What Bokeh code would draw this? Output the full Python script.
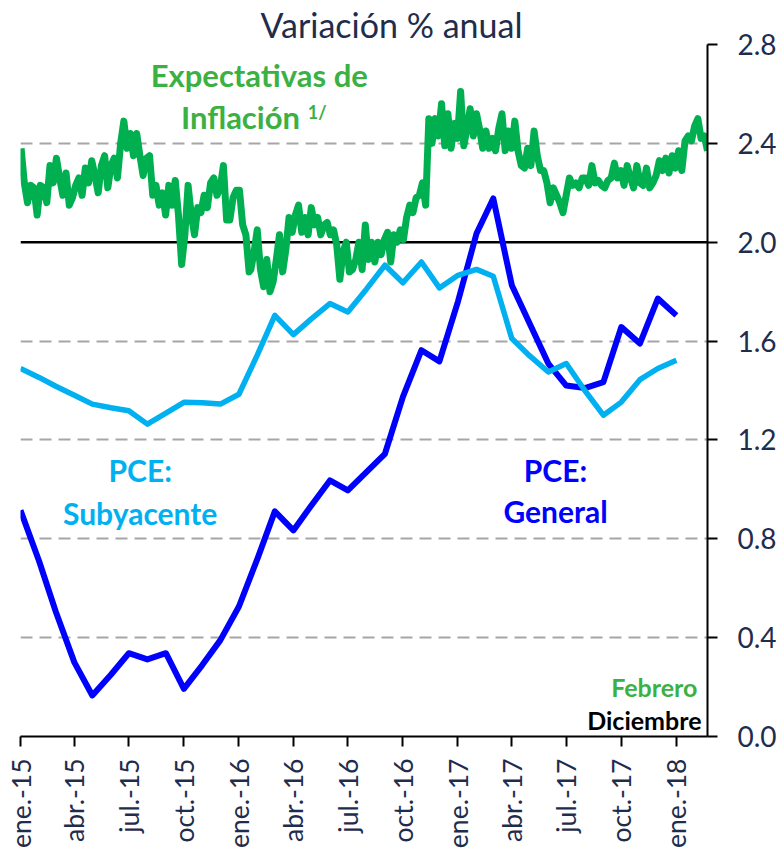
import math
import pandas as pd
from bokeh.plotting import figure
from bokeh.models import FixedTicker, Range1d, Span, Label, PrintfTickFormatter, ColumnDataSource
from bokeh.embed import file_html
from bokeh.resources import INLINE

# ---------------- data ----------------
# PCE monthly (y/y %), Dec-2014 .. Dec-2017, plotted at month end
pce_months = pd.period_range("2014-12", "2017-12", freq="M")
pce_general = [0.915, 0.71, 0.505, 0.30, 0.166, 0.25, 0.337, 0.312, 0.337, 0.193,
               0.29, 0.39, 0.526, 0.72, 0.911, 0.834, 0.935, 1.036, 0.996, 1.07,
               1.144, 1.374, 1.563, 1.518, 1.76, 2.035, 2.177, 1.826, 1.67, 1.509,
               1.42, 1.41, 1.434, 1.657, 1.59, 1.772, 1.704]
pce_core = [1.489, 1.453, 1.417, 1.381, 1.345, 1.33, 1.318, 1.264, 1.308, 1.352,
            1.35, 1.345, 1.385, 1.545, 1.704, 1.626, 1.69, 1.752, 1.718, 1.81,
            1.907, 1.836, 1.92, 1.815, 1.866, 1.89, 1.862, 1.61, 1.54, 1.475,
            1.509, 1.40, 1.30, 1.353, 1.444, 1.489, 1.522]

# Inflation expectations (frequent observations), in three date spans
exp_span1 = ("2015-01-02", "2016-01-18")
exp_vals1 = [2.38, 2.24, 2.16, 2.23, 2.22, 2.11, 2.23, 2.22, 2.16, 2.31,
             2.24, 2.34, 2.26, 2.19, 2.28, 2.15, 2.18, 2.23, 2.26, 2.19,
             2.30, 2.24, 2.33, 2.27, 2.20, 2.31, 2.35, 2.22, 2.31, 2.34,
             2.26, 2.40, 2.49, 2.38, 2.44, 2.35, 2.44, 2.35, 2.27, 2.34,
             2.35, 2.19, 2.23, 2.15, 2.20, 2.11, 2.23, 2.15, 2.25, 2.11,
             1.91, 2.03, 2.23, 2.11, 2.03, 2.14, 2.12, 2.19, 2.14, 2.24,
             2.26, 2.19, 2.22, 2.31, 2.09, 2.09, 2.18, 2.21, 2.21, 2.07,
             2.03, 1.88]
exp_span2 = ("2016-01-21", "2017-02-01")
exp_vals2 = [1.89, 1.96, 2.05, 1.89, 1.82, 1.93, 1.80, 1.84, 1.93, 2.03,
             1.88, 1.97, 2.10, 2.04, 2.11, 2.15, 2.04, 2.10, 2.03, 2.14,
             2.07, 2.10, 2.03, 2.07, 2.08, 2.03, 2.05, 1.99, 1.85, 1.96,
             2.00, 1.88, 1.89, 1.93, 2.00, 1.89, 2.07, 1.93, 2.00, 1.92,
             2.00, 1.95, 2.01, 2.04, 1.92, 2.03, 2.00, 2.05, 2.01, 2.10,
             2.15, 2.12, 2.18, 2.19, 2.24, 2.15, 2.50, 2.40, 2.50, 2.43,
             2.56, 2.39, 2.52, 2.38, 2.48, 2.42, 2.61, 2.39, 2.46, 2.54,
             2.43, 2.52]
exp_span3 = ("2017-02-06", "2018-02-22")
exp_vals3 = [2.46, 2.38, 2.45, 2.38, 2.42, 2.37, 2.46, 2.52, 2.37, 2.45,
             2.38, 2.49, 2.37, 2.31, 2.30, 2.38, 2.31, 2.45, 2.35, 2.29,
             2.29, 2.24, 2.16, 2.22, 2.19, 2.16, 2.12, 2.19, 2.26, 2.23,
             2.24, 2.22, 2.26, 2.26, 2.23, 2.31, 2.24, 2.25, 2.23, 2.22,
             2.25, 2.26, 2.32, 2.26, 2.29, 2.23, 2.31, 2.26, 2.22, 2.31,
             2.24, 2.23, 2.30, 2.22, 2.24, 2.27, 2.33, 2.29, 2.34, 2.28,
             2.35, 2.30, 2.37, 2.29, 2.41, 2.43, 2.41, 2.47, 2.50, 2.42,
             2.43, 2.37]

x_tick_dates = ["2015-01-01", "2015-04-01", "2015-07-01", "2015-10-01",
                "2016-01-01", "2016-04-01", "2016-07-01", "2016-10-01",
                "2017-01-01", "2017-04-01", "2017-07-01", "2017-10-01",
                "2018-01-01"]
x_tick_labels = ["ene.-15", "abr.-15", "jul.-15", "oct.-15",
                 "ene.-16", "abr.-16", "jul.-16", "oct.-16",
                 "ene.-17", "abr.-17", "jul.-17", "oct.-17",
                 "ene.-18"]
y_ticks = [0.0, 0.4, 0.8, 1.2, 1.6, 2.0, 2.4, 2.8]
reference_level = 2.0
x_start, x_end = "2015-01-01", "2018-02-22"

title_text = "Variación % anual"

# ---------------- helpers ----------------
def ms(d):
    return pd.Timestamp(d).value / 1e6

NAVY = "#1F2D4D"
GREEN_LINE = "#00B050"
GREEN_TEXT = "#3BB143"
LIGHT_BLUE = "#00B0F0"
BLUE = "#0000FF"
FONT = "Lato"

pce_dates = pce_months.to_timestamp(how="end")
pce_src = ColumnDataSource(dict(x=pce_dates, gen=pce_general, core=pce_core))

exp_dates = []
exp_vals = []
for span, vals in ((exp_span1, exp_vals1), (exp_span2, exp_vals2), (exp_span3, exp_vals3)):
    exp_dates.extend(pd.date_range(span[0], span[1], periods=len(vals)))
    exp_vals.extend(vals)
exp_src = ColumnDataSource(dict(x=exp_dates, y=exp_vals))

# ---------------- figure ----------------
p = figure(x_axis_type="datetime", y_axis_location="right",
           frame_width=687, frame_height=692,
           min_border_left=20, min_border_top=44, min_border_right=0, min_border_bottom=0,
           x_range=Range1d(ms(x_start), ms(x_end)), y_range=Range1d(0, 2.8),
           output_backend="svg", toolbar_location=None)
p.outline_line_color = None
p.background_fill_color = "white"
p.border_fill_color = "white"

p.title.text = title_text
p.title.text_font = FONT
p.title.text_font_size = "34px"
p.title.text_font_style = "normal"
p.title.text_color = NAVY
p.title.align = "left"
p.title.offset = 240
p.title.standoff = 0

# grid
p.xgrid.visible = False
p.ygrid.ticker = FixedTicker(ticks=[t for t in y_ticks if t not in (0.0, reference_level)])
p.ygrid.grid_line_color = "#A6A6A6"
p.ygrid.grid_line_width = 2
p.ygrid.grid_line_dash = "12 7"

p.add_layout(Span(location=reference_level, dimension="width", line_color="black",
                  line_width=2.5, level="underlay"))

# x axis
xa = p.xaxis[0]
xa.ticker = FixedTicker(ticks=[ms(d) for d in x_tick_dates])
xa.major_label_overrides = {ms(d): lab for d, lab in zip(x_tick_dates, x_tick_labels)}
xa.major_label_orientation = math.pi / 2
xa.major_label_text_font = FONT
xa.major_label_text_font_size = "26.5px"
xa.major_label_text_color = NAVY
xa.major_label_standoff = 12
xa.axis_line_color = "black"
xa.axis_line_width = 2
xa.major_tick_line_color = "black"
xa.major_tick_line_width = 2
xa.major_tick_out = 10
xa.major_tick_in = 0
xa.minor_tick_line_color = None

# y axis (right)
ya = p.yaxis[0]
ya.ticker = FixedTicker(ticks=y_ticks)
ya.formatter = PrintfTickFormatter(format="%.1f")
ya.major_label_text_font = FONT
ya.major_label_text_font_size = "28px"
ya.major_label_text_color = NAVY
ya.major_label_standoff = 20
ya.axis_line_color = "black"
ya.axis_line_width = 2
ya.major_tick_line_color = "black"
ya.major_tick_line_width = 2
ya.major_tick_out = 10
ya.major_tick_in = 0
ya.minor_tick_line_color = None

# lines
p.line("x", "y", source=exp_src, line_color=GREEN_LINE, line_width=7, line_join="round")
p.line("x", "gen", source=pce_src, line_color=BLUE, line_width=6, line_join="round")
p.line("x", "core", source=pce_src, line_color=LIGHT_BLUE, line_width=5.5, line_join="round")

# texts (y = vertical centre of the text)
def lab(x, y, text, color, size, align="center"):
    p.add_layout(Label(x=ms(x), y=y, text=text, text_color=color, text_font=FONT,
                       text_font_size=size, text_font_style="bold",
                       text_align=align, text_baseline="middle"))

lab("2016-02-04", 2.676, "Expectativas de", GREEN_TEXT, "31px")
lab("2016-04-12", 2.508, "Inflación", GREEN_TEXT, "31px", align="right")
lab("2016-04-25", 2.525, "1/", GREEN_TEXT, "18px", align="left")
lab("2015-07-20", 1.077, "PCE:", LIGHT_BLUE, "30px")
lab("2015-07-20", 0.905, "Subyacente", LIGHT_BLUE, "30px")
lab("2017-06-13", 1.077, "PCE:", BLUE, "30px")
lab("2017-06-13", 0.911, "General", BLUE, "30px")
lab("2018-02-05", 0.200, "Febrero", GREEN_TEXT, "25px", align="right")
lab("2018-02-12", 0.067, "Diciembre", "black", "25px", align="right")

open("out.html", "w").write(file_html(p, INLINE))
